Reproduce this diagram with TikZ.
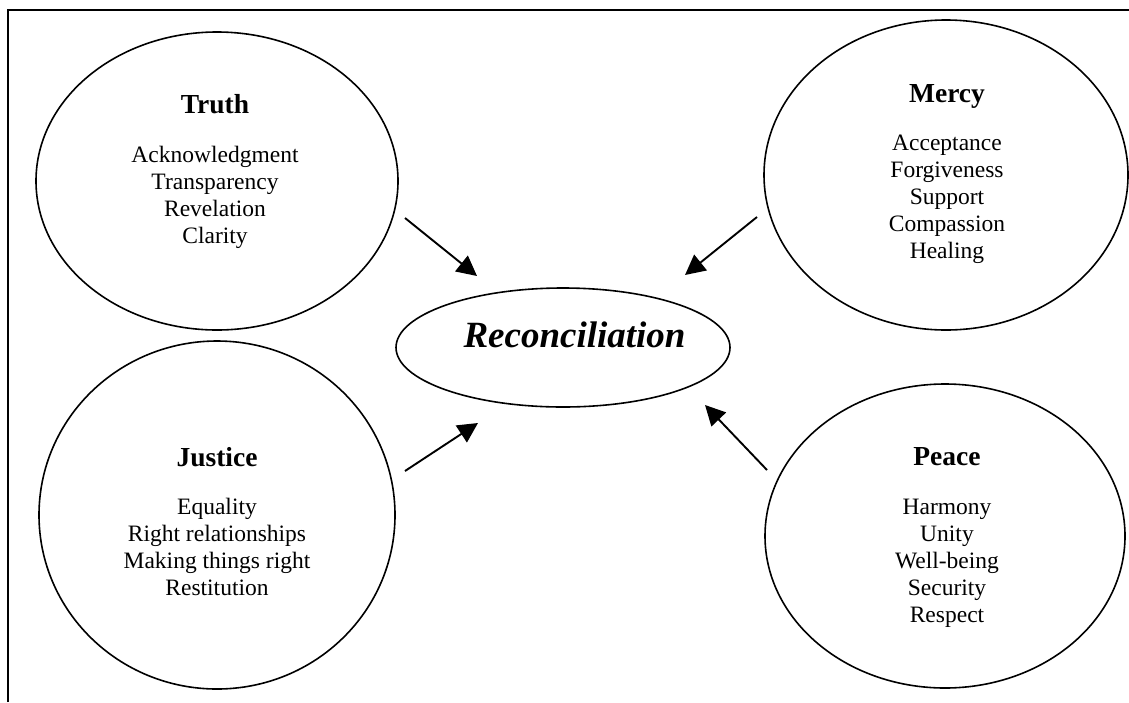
\documentclass[tikz,border=0pt]{standalone}
\usepackage{fontspec}
\setmainfont{Liberation Serif}
\usetikzlibrary{shapes.geometric,arrows.meta}
\newcommand{\ttlfont}{\fontsize{27.5}{30}\selectfont\bfseries}
\begin{document}
\begin{tikzpicture}[x=1pt,y=-1pt,
  bubble/.style={ellipse,draw,line width=1.6pt,inner sep=0pt},
  label/.style={align=center,anchor=base,inner sep=0pt,font=\fontsize{23.5}{27}\selectfont},
  arr/.style={line width=1.9pt,-{Triangle[length=20pt,width=20pt]}}]
\useasboundingbox (0,0) rectangle (1129,702);
\draw[line width=2pt] (8,702) -- (8,10) -- (1129,10);
\node[bubble,minimum width=362pt,minimum height=298pt] (truth) at (217,181) {};
\node[bubble,minimum width=364pt,minimum height=310pt] (mercy) at (946,175) {};
\node[bubble,minimum width=356pt,minimum height=348pt] (justice) at (217,515) {};
\node[bubble,minimum width=360pt,minimum height=304pt] (peace) at (945,536) {};
\node[bubble,minimum width=334pt,minimum height=119pt] (rec) at (563,347.5) {};
\node[font=\fontsize{37}{40}\selectfont\bfseries\itshape,anchor=base,inner sep=0pt] (rect) at (574.5,347) {Reconciliation};
\node[label] (truthtxt) at (215,243) {{\ttlfont Truth}\\[21.5pt]Acknowledgment\\Transparency\\Revelation\\Clarity};
\node[label] (mercytxt) at (947,258.5) {{\ttlfont Mercy}\\[21.5pt]Acceptance\\Forgiveness\\Support\\Compassion\\Healing};
\node[label] (justicetxt) at (217,595.5) {{\ttlfont Justice}\\[21.5pt]Equality\\Right relationships\\Making things right\\Restitution};
\node[label] (peacetxt) at (947,622) {{\ttlfont Peace}\\[21.5pt]Harmony\\Unity\\Well-being\\Security\\Respect};
\coordinate (a1s) at (405,218); \coordinate (a1e) at (477,276);
\coordinate (a2s) at (757,217); \coordinate (a2e) at (685,275);
\coordinate (a3s) at (405,471); \coordinate (a3e) at (478,423);
\coordinate (a4s) at (767,470); \coordinate (a4e) at (705,405);
\draw[arr] (a1s) -- (a1e);
\draw[arr] (a2s) -- (a2e);
\draw[arr] (a3s) -- (a3e);
\draw[arr] (a4s) -- (a4e);
\end{tikzpicture}
\end{document}
